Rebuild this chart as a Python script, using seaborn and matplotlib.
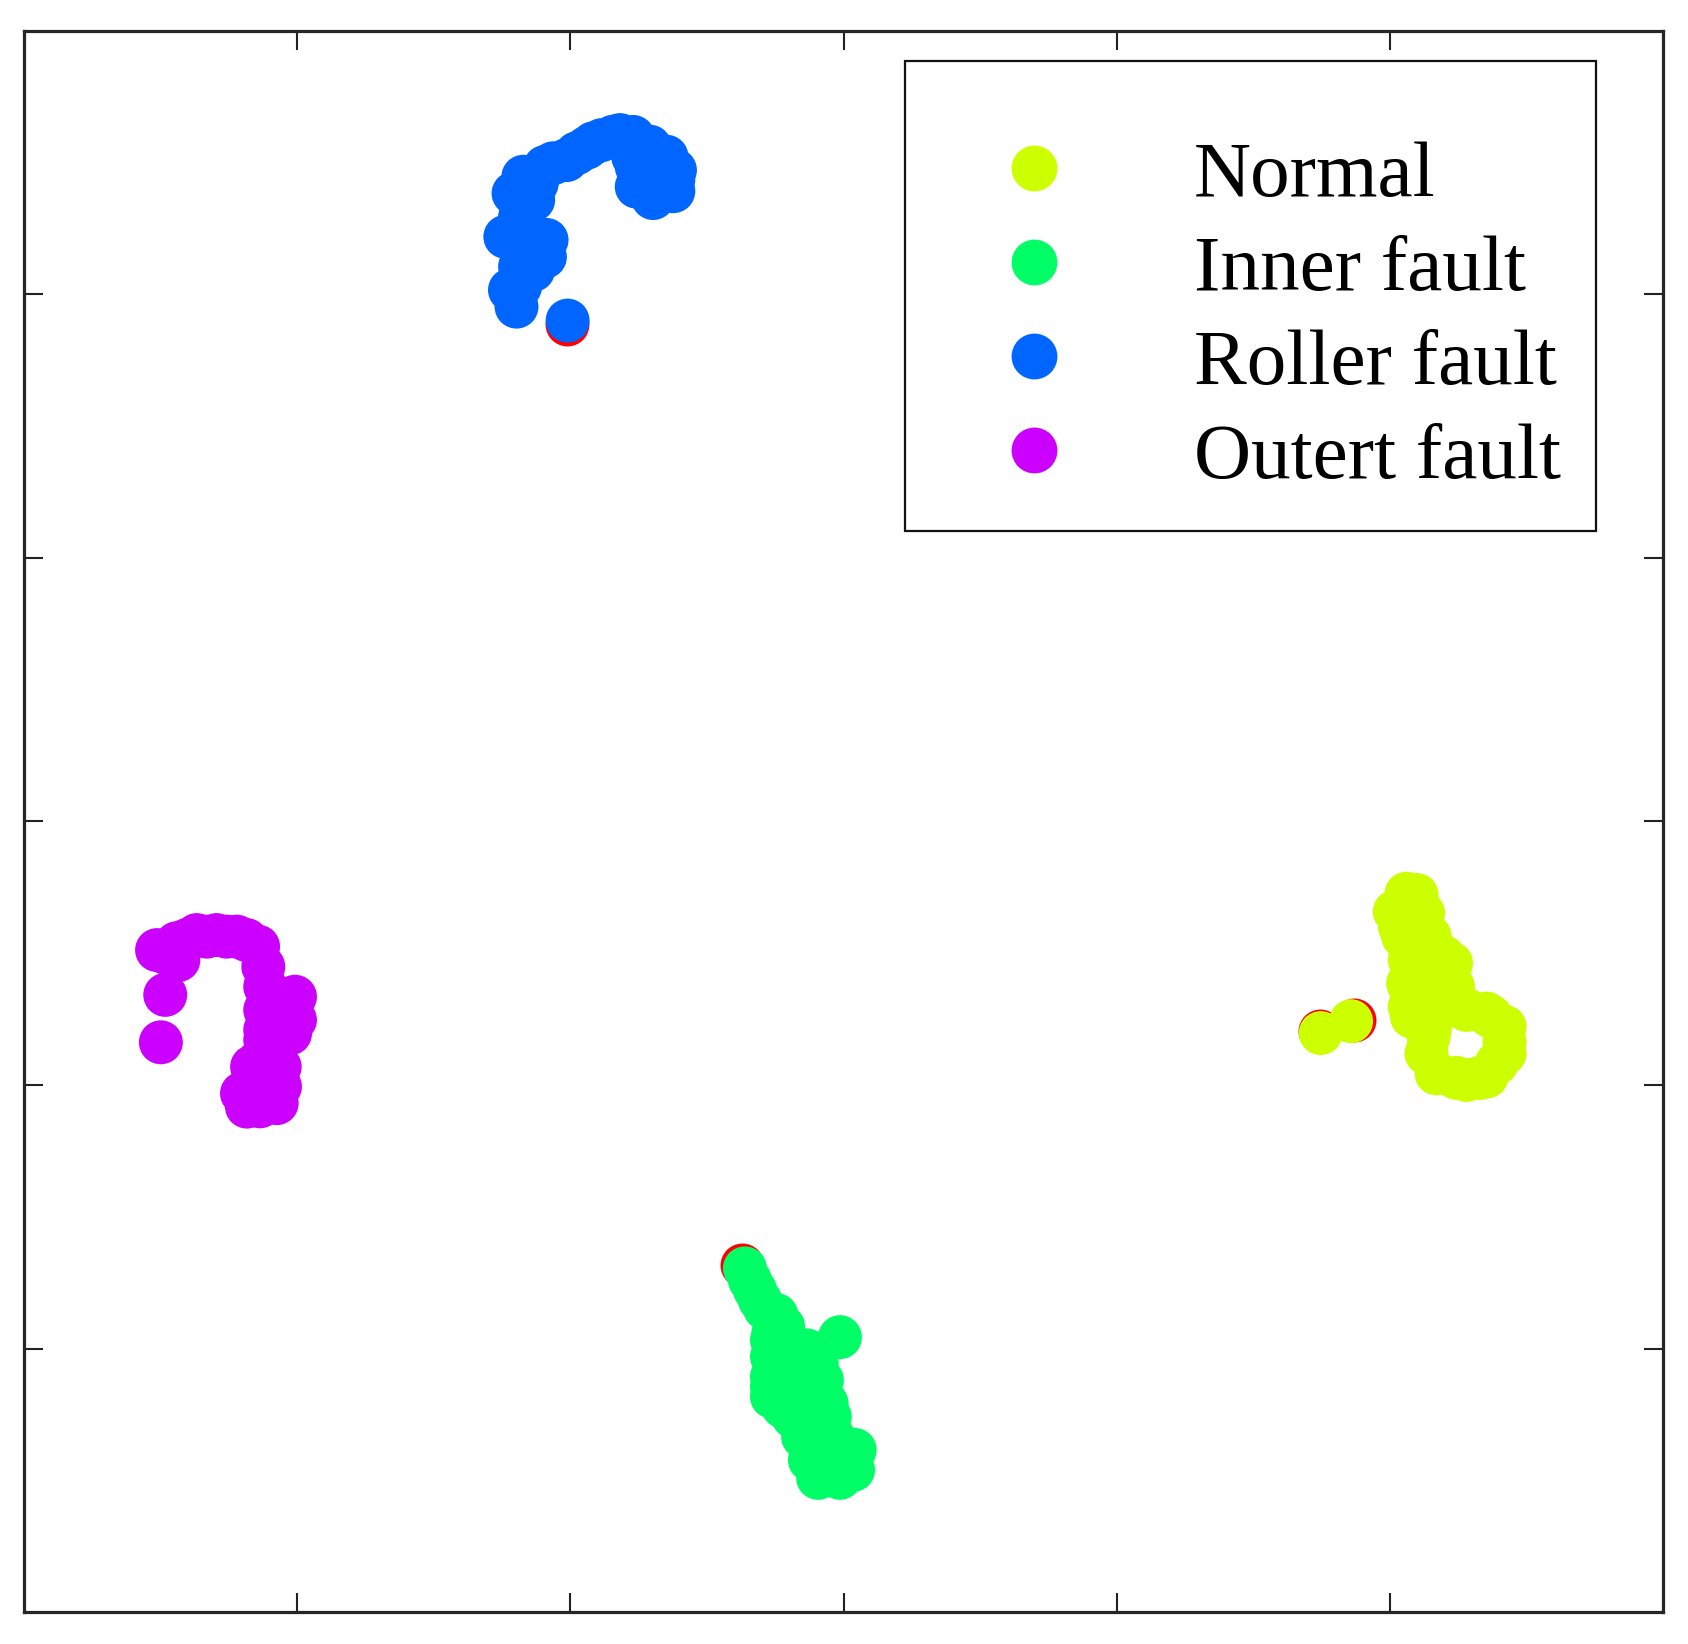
import matplotlib
matplotlib.use("Agg")
import matplotlib.pyplot as plt
from matplotlib.lines import Line2D
import seaborn as sns
import pandas as pd

# ---- data (t-SNE style embedding, arbitrary units) ----
categories = ["Normal", "Inner fault", "Roller fault", "Outert fault"]
colors = ["#CCFF00", "#00FF66", "#0066FF", "#CC00FF"]

normal_x = [17.47, 18.58, 20.18, 20.98, 21.22, 20.49, 21.46, 20.73, 21.95, 20.67,
            22.08, 20.73, 21.71, 22.56, 23.54, 24.20, 24.20, 23.91, 23.29, 22.44,
            21.71, 21.34, 21.46,
            20.61, 20.37, 20.98, 21.22, 22.24, 21.46, 22.31, 20.81, 21.42, 23.71,
            22.81, 24.20, 23.54, 22.81, 21.34]
normal_y = [-8.03, -7.58, -3.42, -2.79, -3.48, -4.37, -4.37, -5.26, -5.13, -6.14,
            -6.02, -7.03, -6.90, -7.03, -7.29, -7.79, -8.36, -9.18, -9.73, -9.73,
            -9.56, -8.80, -7.91,
            -2.74, -3.99, -3.99, -5.00, -5.38, -6.27, -6.27, -7.41, -8.17, -7.41,
            -7.15, -8.80, -9.68, -9.81, -5.64]

inner_x = [-3.61, -3.24, -2.88, -2.46, -2.57, -2.62, -2.62, -2.62, -1.60, -1.35,
           -0.13, -0.98, -0.79, -0.62, -0.50, -1.84, -1.48, -0.98, -0.38, 0.41,
           0.35, -0.13, -0.93, -1.23,
           -3.43, -3.06, -2.21, -2.62, -2.08, -2.62, -2.21, -1.11, -0.62, 0.11,
           -0.38, -0.74]
inner_y = [-16.96, -17.78, -18.47, -18.73, -19.42, -20.31, -21.07, -21.83, -21.83, -20.07,
           -19.57, -20.56, -21.20, -22.08, -22.59, -22.59, -23.35, -23.60, -23.35, -23.85,
           -24.61, -24.91, -24.91, -24.23,
           -17.40, -18.16, -19.17, -19.68, -20.31, -21.45, -22.21, -22.84, -23.09, -24.36,
           -24.36, -24.61]

roller_x = [-10.10, -11.97, -11.84, -11.36, -10.93, -10.87, -12.38, -11.60, -12.08, -11.36,
            -11.23, -10.93, -10.14, -9.40, -8.85, -8.18, -7.70, -7.57, -7.57, -6.97,
            -6.23, -6.17, -6.48, -7.09,
            -11.72, -10.63, -9.77, -9.16, -8.43, -7.70, -6.97, -6.23, -11.84, -11.84,
            -12.21]
roller_y = [19.01, 19.54, 20.30, 20.93, 21.43, 22.07, 22.19, 22.45, 23.84, 23.59,
            24.22, 24.84, 25.10, 25.57, 25.86, 26.05, 25.98, 24.85, 24.09, 23.66,
            23.92, 24.72, 25.23, 25.61,
            24.47, 24.98, 25.36, 25.74, 25.99, 25.23, 24.22, 24.35, 22.95, 21.06,
            20.17]

outer_x = [-25.13, -24.41, -24.35, -23.68, -22.95, -22.21, -21.43, -21.24, -21.17, -21.17,
           -21.17, -20.08, -20.08, -24.83, -24.99, -21.36, -20.64, -22.02, -21.48, -21.36,
           -20.75, -20.63,
           -23.31, -22.58, -24.04, -21.85, -20.75, -20.26, -21.17, -21.00, -21.65, -21.84,
           -21.12, -24.78]
outer_y = [-4.88, -4.62, -5.26, -4.31, -4.31, -4.37, -4.75, -5.51, -6.27, -7.15,
           -7.91, -6.65, -7.53, -6.58, -8.38, -9.05, -9.31, -10.32, -9.81, -10.81,
           -10.69, -10.06,
           -4.37, -4.37, -4.50, -4.50, -6.77, -8.04, -8.29, -8.67, -9.31, -10.82,
           -10.57, -5.00]

# misclassified samples (drawn in red underneath)
wrong_x = [-10.14, 17.44, 18.68, -3.73]
wrong_y = [18.88, -7.94, -7.54, -16.84]

tick_vals = [-20, -10, 0, 10, 20]

rows = []
for cat, xs, ys in zip(categories,
                       [normal_x, inner_x, roller_x, outer_x],
                       [normal_y, inner_y, roller_y, outer_y]):
    for x, y in zip(xs, ys):
        rows.append({"x": x, "y": y, "cls": cat})
df = pd.DataFrame(rows)
df_wrong = pd.DataFrame({"x": wrong_x, "y": wrong_y})

sns.set_style("white")
plt.rcParams["font.family"] = ["Liberation Serif", "DejaVu Serif"]

fig = plt.figure(figsize=(16.88, 16.44), dpi=100)
ax = fig.add_axes([24 / 1688, 1 - 1612 / 1644, (1663 - 24) / 1688, (1612 - 31) / 1644])

S = 1000
sns.scatterplot(data=df_wrong, x="x", y="y", color="#FF0000", s=S, linewidth=0,
                ax=ax, legend=False, zorder=2)
sns.scatterplot(data=df, x="x", y="y", hue="cls", hue_order=categories,
                palette=dict(zip(categories, colors)), s=S, linewidth=0,
                ax=ax, legend=False, zorder=3)

ax.set_xlim(-30, 30)
ax.set_ylim(-30, 30)
ax.set_xticks(tick_vals)
ax.set_yticks(tick_vals)
ax.set_xlabel("")
ax.set_ylabel("")
ax.tick_params(direction="in", length=13.5, width=1.5, color="#222222",
               top=True, right=True, bottom=True, left=True,
               labelbottom=False, labelleft=False)
for sp in ax.spines.values():
    sp.set_visible(True)
    sp.set_linewidth(2.3)
    sp.set_color("#262626")

handles = [Line2D([0], [0], marker="o", linestyle="", markersize=33,
                  markerfacecolor=c, markeredgewidth=0) for c in colors]
leg = ax.legend(handles, categories, loc="upper left",
                bbox_to_anchor=((905 - 24) / 1639, (1612 - 61) / 1581),
                borderaxespad=0, fontsize=57, frameon=True, fancybox=False,
                framealpha=1, edgecolor="#111111", borderpad=0.45,
                labelspacing=0.274, handlelength=2.37, handletextpad=0.825,
                labelcolor="black", title=" ", title_fontproperties={"size": 17.7})
leg.get_frame().set_linewidth(1.6)

fig.savefig("out.png", dpi=100, facecolor="white")
